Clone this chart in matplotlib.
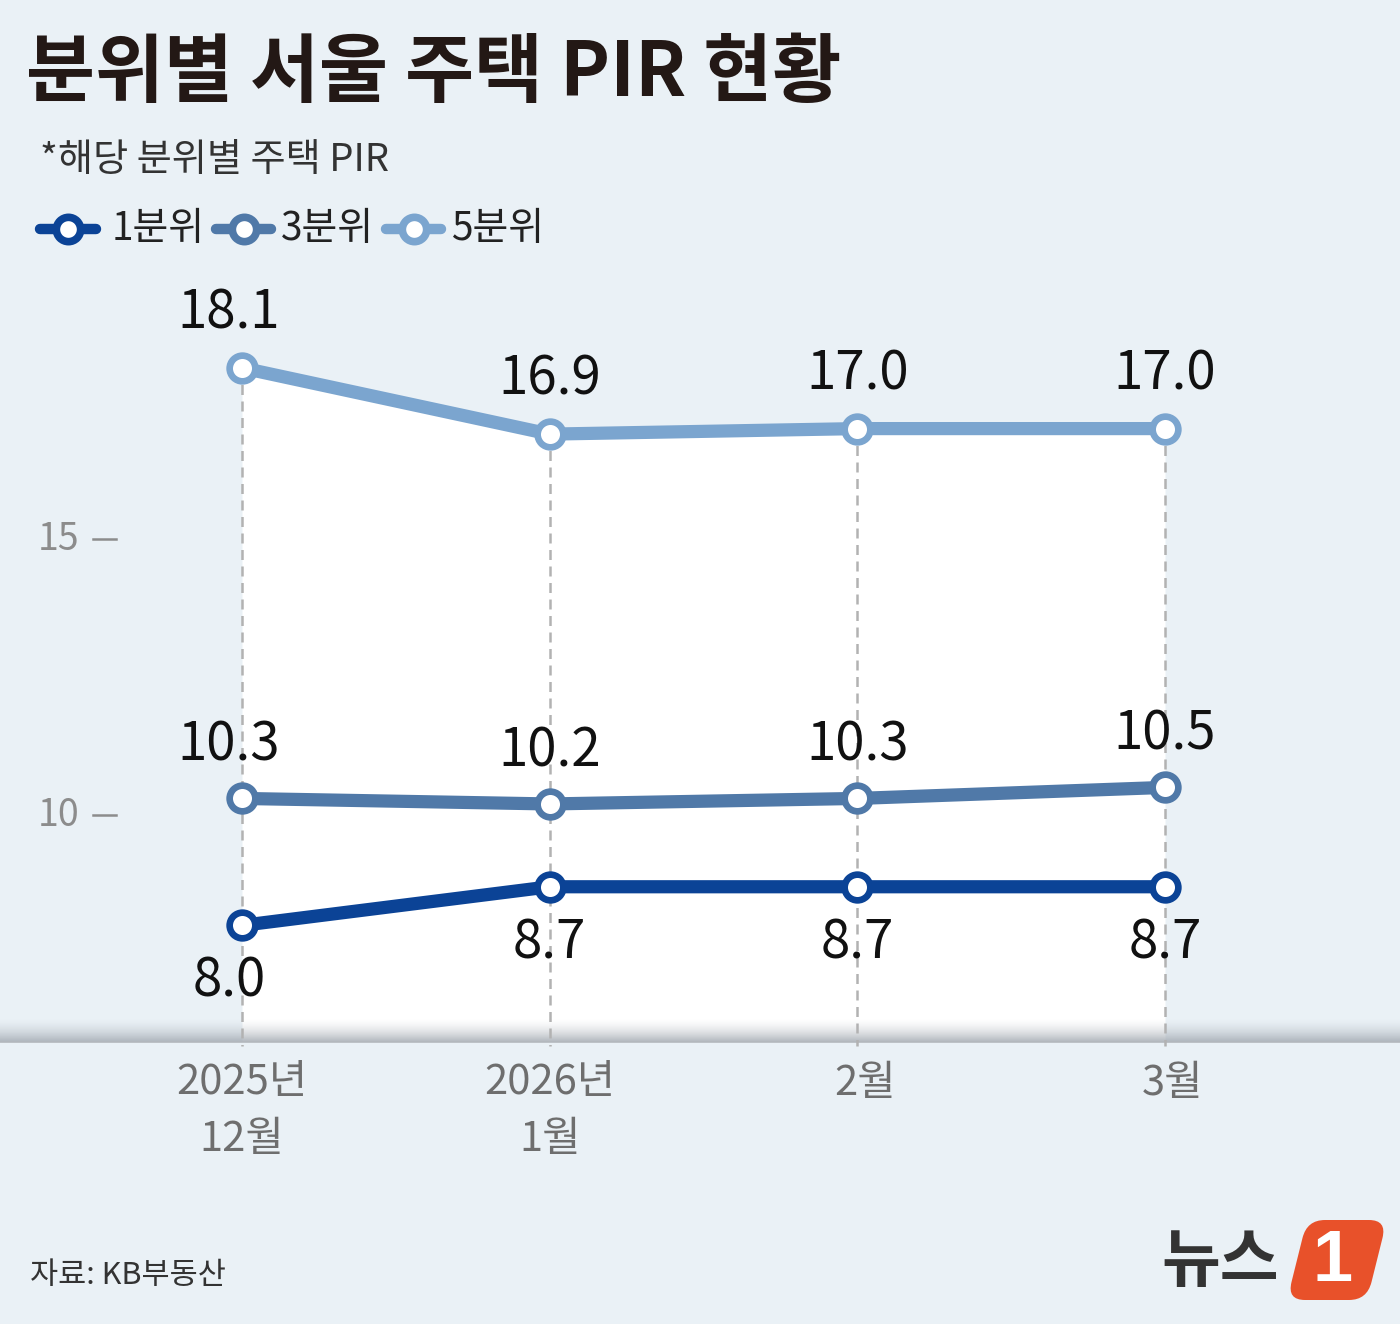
import numpy as np
import matplotlib
matplotlib.use("Agg")
import matplotlib.pyplot as plt
from matplotlib.lines import Line2D
from matplotlib.patches import FancyBboxPatch
from matplotlib.transforms import Affine2D

# ---------------- data ----------------
months = ["2025년\n12월", "2026년\n1월", "2월", "3월"]
q1 = [8.0, 8.7, 8.7, 8.7]
q3 = [10.3, 10.2, 10.3, 10.5]
q5 = [18.1, 16.9, 17.0, 17.0]
series_names = ["1분위", "3분위", "5분위"]
yticks = [10, 15]

# ---------------- style ----------------
W, H = 1400, 1324
BG = "#eaf1f6"
C1, C3, C5 = "#0b4396", "#5079a8", "#7ba5cf"
FONT_KR = ["Noto Sans CJK KR", "DejaVu Sans"]

# pixel <-> data mapping (x: 0->242px, 3->1165px ; y: 15->539px, 10->815px)
XPX0, XPPU = 242.0, (1165.0 - 242.0) / 3.0
YPX15, YPPU = 539.0, (815.0 - 539.0) / 5.0


def vy(p):
    return 15 - (p - YPX15) / YPPU


def vx(p):
    return (p - XPX0) / XPPU


def fx(p):
    return p / W


def fy(p):
    return 1 - p / H


BASE = vy(1042)

fig = plt.figure(figsize=(W / 100, H / 100), dpi=100)
fig.patch.set_facecolor(BG)
ax = fig.add_axes([0, 0, 1, 1])
ax.set_facecolor(BG)
ax.axis("off")

x = np.arange(len(months))

# white area under the top series
ax.fill_between(x, q5, BASE, color="white", zorder=1, linewidth=0)

# baseline gradient band
grad_n = 64
t = np.linspace(0, 1, grad_n) ** 1.6
rgba = np.zeros((grad_n, 2, 4))
rgba[..., 0] = 0.64
rgba[..., 1] = 0.67
rgba[..., 2] = 0.70
rgba[..., 3] = (t * 0.85)[:, None]
ax.imshow(rgba, extent=(vx(0), vx(W), BASE, vy(1018)), origin="upper",
          aspect="auto", zorder=2, interpolation="bilinear")
ax.plot([vx(0), vx(W)], [BASE, BASE], color="#b3b8bd", lw=1.2, zorder=2)

# vertical dashed guides
tops = np.maximum(np.maximum(q1, q3), q5)
for xi, top in zip(x, tops):
    ax.plot([xi, xi], [top, vy(1046)], color="#b2b2b2", lw=1.8,
            dashes=(4, 2.6), zorder=3)

# lines
lw, ms, mew = 9.5, 18.5, 4.8
for vals, col in [(q5, C5), (q3, C3), (q1, C1)]:
    ax.plot(x, vals, color=col, lw=lw, marker="o", ms=ms, mew=mew,
            mfc="white", mec=col, zorder=5, solid_joinstyle="round")

# data labels
def lab(vals, dy_px):
    for i, v in enumerate(vals):
        dx = -13 if i == 0 else 0
        ax.annotate(f"{v:.1f}", (x[i], v), xytext=(dx, dy_px),
                    textcoords="offset pixels", ha="center", va="center",
                    fontsize=38, color="#111111", family=FONT_KR, zorder=6)

lab(q5, 55)
lab(q3, 53)
lab(q1, -56)

# y tick marks
for yt in yticks:
    ax.text(vx(38), yt, f"{yt}", ha="left", va="center", fontsize=27,
            color="#8c8c8c", family=FONT_KR)
    ax.plot([vx(93), vx(116)], [yt, yt], color="#8c8c8c", lw=1.8)

# x labels
for xi, m in zip(x, months):
    lines = m.split("\n")
    for j, ln in enumerate(lines):
        ax.text(xi + (vx(8) - vx(0) if len(lines) == 1 else 0),
                vy(1083 + 57 * j), ln, ha="center", va="center",
                fontsize=30, color="#6e6e6e", family=FONT_KR)

ax.set_xlim(vx(0), vx(W))
ax.set_ylim(vy(H), vy(0))

# ---------------- title & subtitle ----------------
fig.text(fx(26), fy(74), "분위별 서울 주택 PIR 현황", ha="left", va="center",
         fontsize=54, fontweight="bold", color="#231815", family=FONT_KR)
fig.text(fx(40), fy(160), "*해당 분위별 주택 PIR", ha="left", va="center",
         fontsize=27.5, color="#333333", family=FONT_KR)

# ---------------- legend ----------------
leg = [(40, 96, C1, series_names[0], 112),
       (216, 271, C3, series_names[1], 281),
       (386, 441, C5, series_names[2], 451)]
for x0, x1, col, name, tx in leg:
    ln = Line2D([fx(x0), fx((x0 + x1) / 2), fx(x1)], [fy(229)] * 3,
                transform=fig.transFigure, color=col, lw=7.5,
                solid_capstyle="round", marker="o",
                markevery=[1], ms=17.5, mew=5.5, mfc="white", mec=col)
    fig.add_artist(ln)
    fig.text(fx(tx), fy(229), name, ha="left", va="center", fontsize=28,
             color="#222222", family=FONT_KR)

# ---------------- source ----------------
fig.text(fx(30), fy(1276), "자료: KB부동산", ha="left", va="center",
         fontsize=22, color="#333333", family=FONT_KR)

# ---------------- logo ----------------
fig.text(fx(1220), fy(1262), "뉴스", ha="center", va="center", fontsize=46,
         fontweight="bold", color="#333333", family=FONT_KR)
cx, cy = 1337, H - 1260
box = FancyBboxPatch((cx - 40, cy - 40), 80, 80,
                     boxstyle="round,pad=0,rounding_size=18",
                     facecolor="#e8512a", edgecolor="none",
                     transform=Affine2D().translate(-cx, -cy).skew_deg(14, 0)
                     .translate(cx, cy) + Affine2D().scale(1 / W, 1 / H)
                     + fig.transFigure)
fig.add_artist(box)
fig.text(fx(1333), fy(1262), "1", ha="center", va="center", fontsize=52,
         fontweight="bold", color="white", family=["Liberation Sans", "DejaVu Sans"])

fig.savefig("out.png", dpi=100, facecolor=BG)
